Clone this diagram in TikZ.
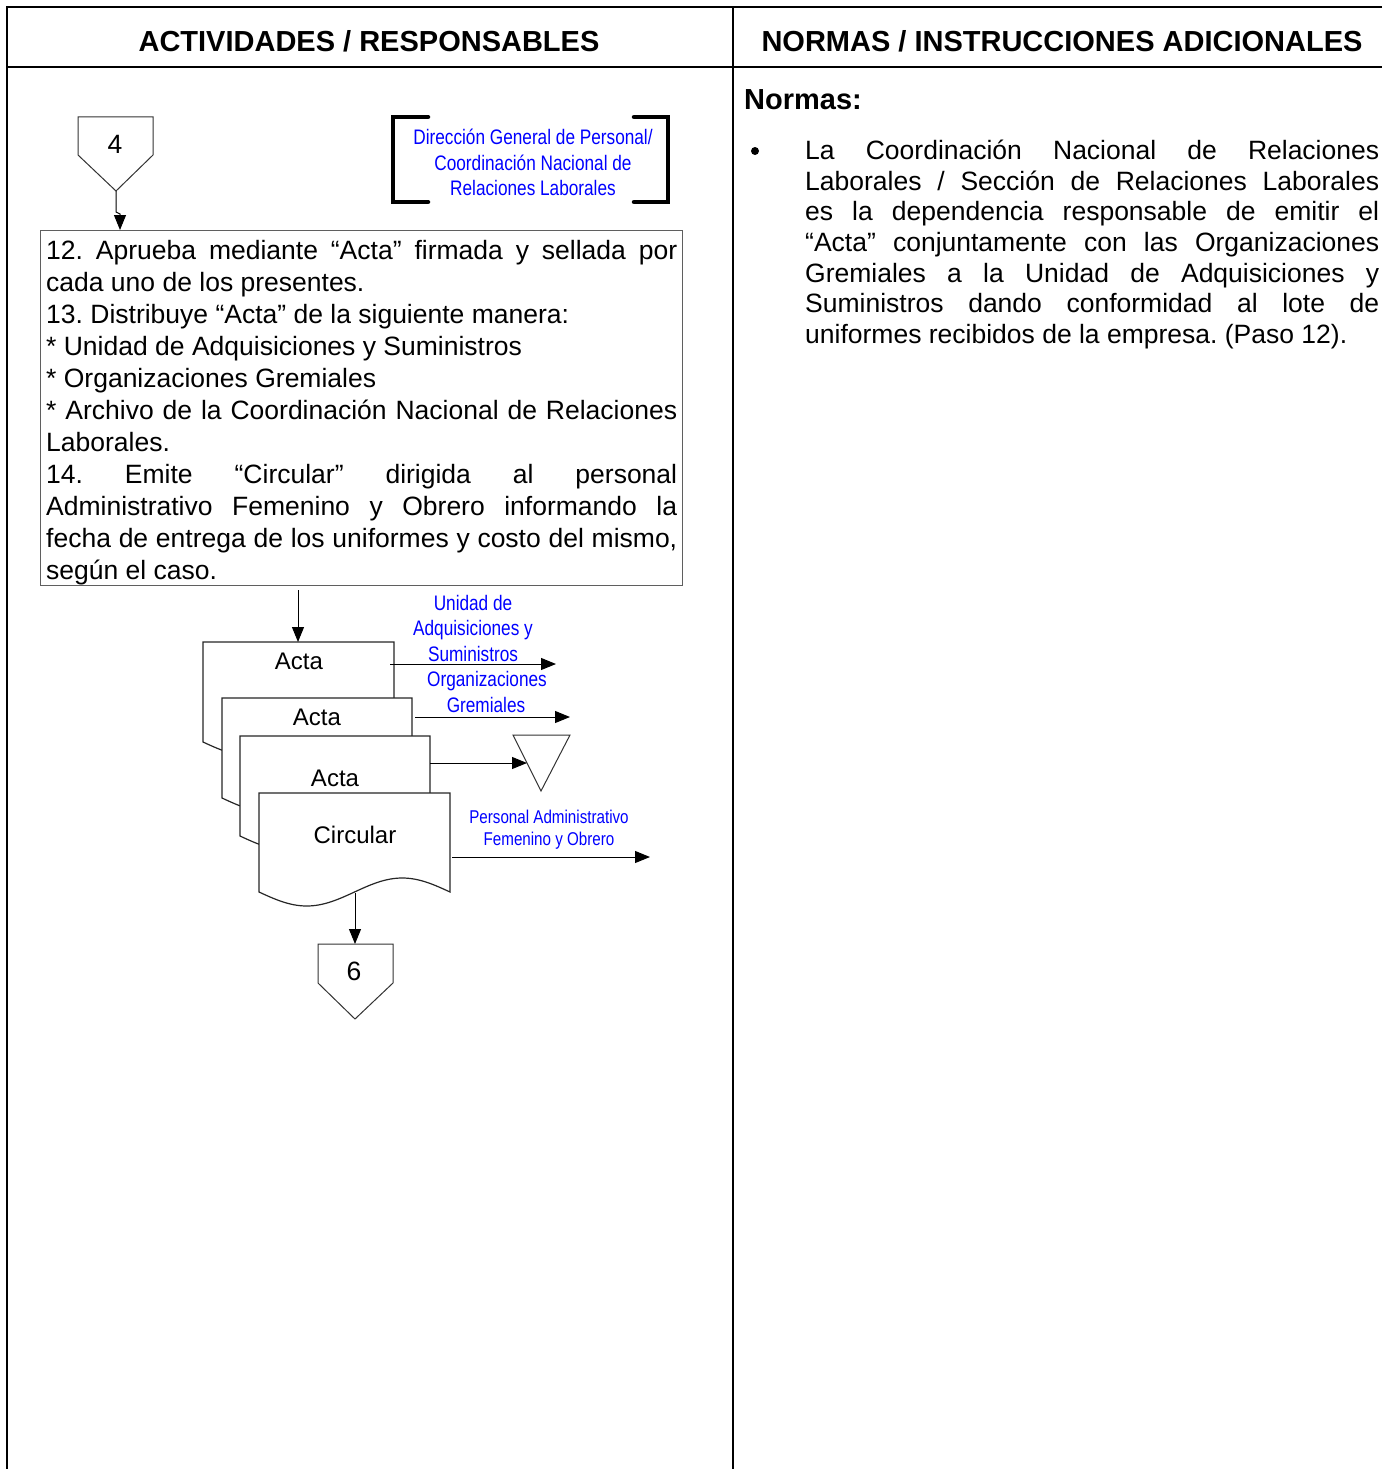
\documentclass[tikz,border=0pt]{standalone}
\usepackage{fontspec}
\setmainfont{Liberation Sans}
\newfontfamily\narrowfont[FakeStretch=0.82]{Liberation Sans}
\usetikzlibrary{arrows.meta}
\definecolor{lblue}{RGB}{0,0,255}
\definecolor{boxgray}{RGB}{95,95,95}
\tolerance=10000 \hbadness=10000 \hyphenpenalty=10000
\frenchspacing
\begin{document}
\begin{tikzpicture}[x=1pt,y=-1pt,
  frame/.style={line width=2pt, draw=black},
  arr/.style={-{Triangle[length=15pt,width=12pt]}, line width=1pt},
  doc/.style={draw=black!85, line width=1.2pt, fill=white},
  conn/.style={draw=black!80, line width=1pt, fill=white},
  brk/.style={line width=4.5pt, line cap=round},
  headtxt/.style={inner sep=0, anchor=base, font=\bfseries\fontsize{29}{34}\selectfont},
  bodytxt/.style={inner sep=0, font=\fontsize{26.5}{32}\selectfont},
  doctxt/.style={inner sep=0, anchor=base, font=\fontsize{24}{28}\selectfont},
  lbl/.style={inner sep=0, anchor=base, text=lblue, font=\narrowfont\fontsize{21}{25.5}\selectfont},
  slbl/.style={inner sep=0, anchor=base, text=lblue, font=\narrowfont\fontsize{18.5}{22}\selectfont}
]
\useasboundingbox (0,0) rectangle (1382,1469);

% frame
\draw[frame] (1382,7) -- (7,7) -- (7,1469);
\draw[frame] (733,7) -- (733,1469);
\draw[frame] (7,67) -- (1382,67);
\node[headtxt] (h1) at (369,51.5) {ACTIVIDADES / RESPONSABLES};
\node[headtxt] (h2) at (1062,51.5) {NORMAS / INSTRUCCIONES ADICIONALES};

% right column
\node[headtxt, anchor=base west] (normas) at (744,110) {Normas:};
\node[circle, fill=black, inner sep=0, minimum size=8pt] (bullet) at (755,151) {};
\node[bodytxt, anchor=base west] (normtext) at (805,159.5) {\parbox[t]{574pt}{\fontsize{26.5}{30.67}\selectfont
La Coordinación Nacional de Relaciones\linebreak
Laborales / Sección de Relaciones Laborales\linebreak
es la dependencia responsable de emitir el\linebreak
“Acta” conjuntamente con las Organizaciones\linebreak
Gremiales a la Unidad de Adquisiciones y\linebreak
Suministros dando conformidad al lote de\linebreak
uniformes recibidos de la empresa. (Paso 12).}};

% off-page connector 4
\draw[conn] (78,117) -- (153,117) -- (153,155) -- (116,191) -- (78,155) -- cycle;
\node[bodytxt, anchor=base] (c4) at (115,153.5) {4};
\coordinate (c4tip) at (116,191);

% responsible bracket
\draw[brk] (428,117) -- (393,117) -- (393,202) -- (428,202);
\draw[brk] (634,117) -- (668,117) -- (668,202) -- (634,202);
\node[lbl] (resp) at (533,144.5) {\parbox[t]{270pt}{\centering
Dirección General de Personal/\\
Coordinación Nacional de\\
Relaciones Laborales}};

% main activity box
\node[draw=boxgray, line width=1.3pt, anchor=north west, inner sep=0,
      minimum width=642pt, minimum height=355pt] (box) at (40,230) {};
\node[bodytxt, anchor=base west] (boxtext) at (46,259) {\parbox[t]{631pt}{\fontsize{26.5}{32}\selectfont
12. Aprueba mediante “Acta” firmada y sellada por\linebreak
cada uno de los presentes.\newline
13. Distribuye “Acta” de la siguiente manera:\newline
{}* Unidad de Adquisiciones y Suministros\newline
{}* Organizaciones Gremiales\newline
{}* Archivo de la Coordinación Nacional de Relaciones\linebreak
Laborales.\newline
14. Emite “Circular” dirigida al personal\linebreak
Administrativo Femenino y Obrero informando la\linebreak
fecha de entrega de los uniformes y costo del mismo,\linebreak
según el caso.}};

\coordinate (boxin) at (120,230);
\draw[arr] (c4tip) -- (116,212) -- (120,214) -- (boxin);

% documents
\draw[doc] (203,642) -- (394,642) -- (394,742) sin (346.25,728) cos (298.5,742) sin (250.75,756) cos (203,742) -- cycle;
\draw[doc] (222,698) -- (412,698) -- (412,798) sin (364.5,784) cos (317,798) sin (269.5,812) cos (222,798) -- cycle;
\draw[doc] (240,736) -- (430,736) -- (430,836) sin (382.5,822) cos (335,836) sin (287.5,850) cos (240,836) -- cycle;
\draw[doc] (259,793) -- (450,793) -- (450,892) sin (402.25,878) cos (354.5,892) sin (306.75,906) cos (259,892) -- cycle;
\node[doctxt] (d1) at (299,669.6) {Acta};
\node[doctxt] (d2) at (317,725.6) {Acta};
\node[doctxt] (d3) at (335,786.6) {Acta};
\node[doctxt] (d4) at (355,843.6) {Circular};

\coordinate (boxout) at (298,590);
\coordinate (d1top) at (298,642);
\draw[arr] (boxout) -- (d1top);

% outgoing arrows
\coordinate (d1e) at (390,664);
\coordinate (o1) at (556,664);
\draw[arr] (d1e) -- (o1);
\node[lbl] (l1a) at (473,610.5) {Unidad de};
\node[lbl] (l1b) at (473,635.5) {Adquisiciones y};
\node[lbl] (l1c) at (473,661.5) {Suministros};

\coordinate (d2e) at (415,717);
\coordinate (o2) at (570,717);
\draw[arr] (d2e) -- (o2);
\node[lbl] (l2a) at (487,686.5) {Organizaciones};
\node[lbl] (l2b) at (486,712.5) {Gremiales};

% archive
\draw[conn] (513,735) -- (570,735) -- (541,791) -- cycle;
\coordinate (d3e) at (430,763);
\coordinate (arch) at (527,763);
\draw[arr] (d3e) -- (arch);

\coordinate (d4e) at (452,857);
\coordinate (o4) at (650,857);
\draw[arr] (d4e) -- (o4);
\node[slbl] (l4a) at (549,823.6) {Personal Administrativo};
\node[slbl] (l4b) at (549,845.6) {Femenino y Obrero};

% connector 6
\coordinate (d4bot) at (355,893);
\coordinate (c6top) at (355,944);
\draw[arr] (d4bot) -- (c6top);
\draw[conn] (318,944) -- (393,944) -- (393,983) -- (355,1019) -- (318,983) -- cycle;
\node[bodytxt, anchor=base] (c6) at (354,980) {6};
\end{tikzpicture}
\end{document}
